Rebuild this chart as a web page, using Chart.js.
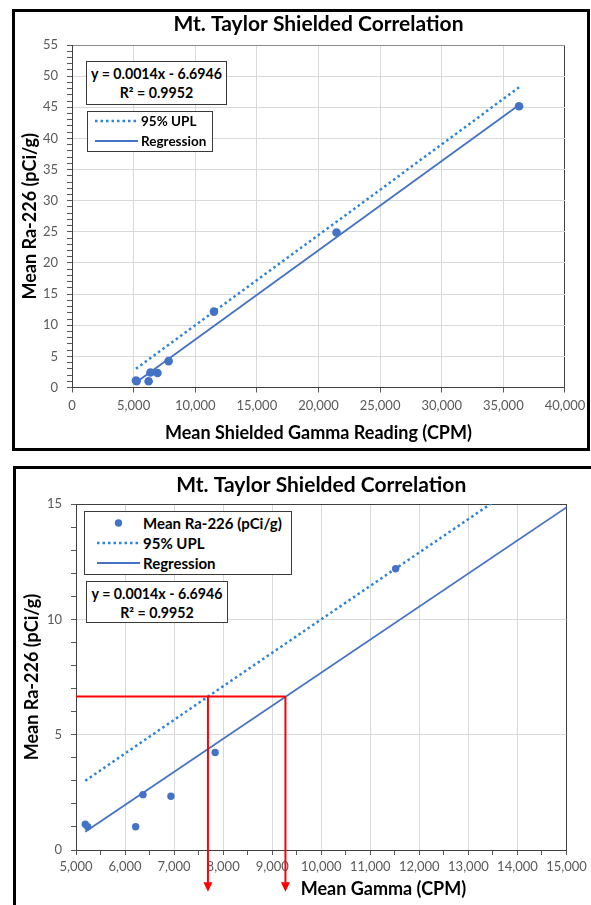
<!DOCTYPE html>
<html>
<head>
<meta charset="utf-8">
<title>Mt. Taylor Shielded Correlation</title>
<script src="https://cdn.jsdelivr.net/npm/chart.js@4.4.1/dist/chart.umd.min.js"></script>
<style>
  html, body { margin: 0; padding: 0; background: #fff; }
  body { position: relative; width: 591px; height: 905px; overflow: hidden; font-family: Lato, sans-serif; color: #000; }
  .frame { position: absolute; box-sizing: border-box; border: 3px solid #000; }
  #frameTop { left: 12px; top: 9px; width: 578px; height: 442px; }
  #frameBottom { left: 13px; top: 466px; width: 640px; height: 500px; }
  canvas { position: absolute; left: 0; }
  #topChart { top: 0; }
  #bottomChart { top: 460px; }
  .box { position: absolute; box-sizing: border-box; background: #fff; border: 1px solid #3a3a3a; }
  .eq { font-weight: bold; text-align: center; font-size: 14.2px; line-height: 19.4px; padding-top: 1.6px; }
  .row { position: absolute; left: 0; height: 20px; width: 100%; white-space: nowrap; font-weight: bold; }
  .row svg { position: absolute; top: 0; left: 0; }
  .row span { position: absolute; top: 0; line-height: 20px; }
</style>
</head>
<body>
<div class="frame" id="frameTop"></div>
<div class="frame" id="frameBottom"></div>
<canvas id="topChart" width="591" height="460"></canvas>
<canvas id="bottomChart" width="591" height="445"></canvas>
<div class="box eq" id="eqTop" style="left:86px;top:61px;width:141px;height:44px;"></div>
<div class="box" id="legendTop" style="left:87px;top:111px;width:126px;height:41px;"></div>
<div class="box" id="legendBottom" style="left:84px;top:511px;width:208px;height:64px;"></div>
<div class="box eq" id="eqBottom" style="left:86px;top:581px;width:142px;height:42px;"></div>
<script>
// values
var gammaCpm = [5189, 5238, 6216, 6365, 6935, 7837, 11517, 21466, 36275];
var meanRa226 = [1.12, 1.01, 1.01, 2.40, 2.33, 4.23, 12.19, 24.88, 45.16];

var uplCpm = [5189, 7690, 11517, 21466, 36275];
var uplRa226 = [3.0, 6.65, 12.2, 26.6, 48.2];

var regressionCpm = [5189, 36275];
var regressionRa226 = [0.79, 45.35];

var equationLines = ['y = 0.0014x - 6.6946', 'R\u00b2 = 0.9952'];

// red read-off lines on the zoomed chart
var limitRa226 = 6.65;
var limitCpm = [7690, 9270];   // UPL crossing, regression crossing
var arrowBaseRa226 = -1.42;    // arrows run down past the x axis

// axis ranges: [min, max, step, labelled every]
var topX = [0, 40000, 5000, 5000];
var topY = [0, 55, 1, 5];
var bottomX = [5000, 15000, 500, 1000];
var bottomY = [0, 15, 1, 5];

var blue = '#4472C4';
var dotBlue = '#2E84D4';
var red = '#FF0000';

Chart.defaults.font.family = 'Lato, sans-serif';

function pts(xs, ys) {
    return xs.map(function (x, i) { return {x: x, y: ys[i]}; });
}

function withCommas(v) {
    return String(v).replace(/\B(?=(\d{3})+(?!\d))/g, ',');
}

function seriesDatasets(radius) {
    return [{
        label: 'Mean Ra-226 (pCi/g)',
        data: pts(gammaCpm, meanRa226),
        showLine: false,
        pointRadius: radius,
        pointBorderWidth: 0,
        pointBackgroundColor: blue,
        order: 0
    }, {
        label: '95% UPL',
        data: pts(uplCpm, uplRa226),
        showLine: true,
        borderColor: dotBlue,
        borderWidth: 2.5,
        borderDash: [2.5, 3],
        pointRadius: 0,
        order: 2
    }, {
        label: 'Regression',
        data: pts(regressionCpm, regressionRa226),
        showLine: true,
        borderColor: blue,
        borderWidth: 1.8,
        pointRadius: 0,
        order: 1
    }];
}

function axis(range, opts) {
    var min = range[0], max = range[1], major = range[3];
    return {
        type: 'linear',
        min: min,
        max: max,
        ticks: {
            stepSize: range[2],
            autoSkip: false,
            maxRotation: 0,
            minRotation: 0,
            color: '#595959',
            padding: opts.labelPad,
            font: {size: 13},
            callback: function (v) { return v % major === 0 ? withCommas(v) : ''; }
        },
        grid: {
            color: function (c) {
                var v = c.tick ? c.tick.value : 0;
                if (v % major !== 0) return 'rgba(0,0,0,0)';
                if (v === max) return opts.edgeColor;
                return '#d9d9d9';
            },
            tickColor: '#595959',
            tickLength: 5,
            lineWidth: 1
        },
        border: {color: '#404040', width: 1},
        title: {
            display: !!opts.title,
            text: opts.title || '',
            color: '#000',
            font: {size: 18, weight: 'bold'},
            padding: opts.titlePad
        },
        afterFit: function (s) {
            if (opts.width) s.width = opts.width;
            if (opts.height) s.height = opts.height;
        }
    };
}

// arrowheads at the end of the red read-off lines
var arrowHeads = {
    id: 'arrowHeads',
    afterDatasetsDraw: function (chart) {
        var ctx = chart.ctx;
        chart.data.datasets.forEach(function (ds, i) {
            if (!ds.arrow) return;
            var els = chart.getDatasetMeta(i).data;
            var end = els[els.length - 1];
            ctx.save();
            ctx.fillStyle = ds.borderColor;
            ctx.beginPath();
            ctx.moveTo(end.x - 4.5, end.y - 0.5);
            ctx.lineTo(end.x + 4.5, end.y - 0.5);
            ctx.lineTo(end.x, end.y + 9);
            ctx.closePath();
            ctx.fill();
            ctx.restore();
        });
    }
};

// x title of the lower chart sits right of centre
var offsetAxisTitle = {
    id: 'offsetAxisTitle',
    afterDraw: function (chart, args, opts) {
        if (!opts.text) return;
        var area = chart.chartArea, ctx = chart.ctx;
        ctx.save();
        ctx.font = 'bold 18px Lato, sans-serif';
        ctx.fillStyle = '#000';
        ctx.textAlign = 'center';
        ctx.textBaseline = 'middle';
        ctx.fillText(opts.text, area.right - opts.fromRight, area.bottom + opts.below);
        ctx.restore();
    }
};

function titleOpts(padTop, padBottom) {
    return {
        display: true,
        text: 'Mt. Taylor Shielded Correlation',
        color: '#000',
        fullSize: false,
        font: {size: 21, weight: 'bold'},
        padding: {top: padTop, bottom: padBottom}
    };
}

var topDatasets = seriesDatasets(4.3);

window.topChart = new Chart(document.getElementById('topChart'), {
    type: 'scatter',
    data: {datasets: topDatasets},
    options: {
        responsive: false,
        animation: false,
        devicePixelRatio: 1,
        events: [],
        layout: {padding: {left: 14, right: 25.5, top: 0, bottom: 12.5}},
        plugins: {
            legend: {display: false},
            tooltip: {enabled: false},
            title: titleOpts(11.4, 8.4)
        },
        scales: {
            x: axis(topX, {labelPad: 5.7, edgeColor: '#404040', height: 60,
                title: 'Mean Shielded Gamma Reading (CPM)', titlePad: {top: 0, bottom: 3.7}}),
            y: axis(topY, {labelPad: 9, edgeColor: '#8c8c8c', width: 58,
                title: 'Mean Ra-226 (pCi/g)', titlePad: {top: 5.2, bottom: 0}})
        }
    }
});

var bottomDatasets = seriesDatasets(3.7).concat([{
    label: 'read-off',
    data: pts([bottomX[0], limitCpm[1]], [limitRa226, limitRa226]),
    showLine: true, borderColor: red, borderWidth: 2, pointRadius: 0, clip: false, order: -1
}, {
    label: 'UPL read-off',
    data: pts([limitCpm[0], limitCpm[0]], [limitRa226, arrowBaseRa226]),
    showLine: true, borderColor: red, borderWidth: 2, pointRadius: 0, clip: false, order: -1, arrow: true
}, {
    label: 'regression read-off',
    data: pts([limitCpm[1], limitCpm[1]], [limitRa226, arrowBaseRa226]),
    showLine: true, borderColor: red, borderWidth: 2, pointRadius: 0, clip: false, order: -1, arrow: true
}]);

window.bottomChart = new Chart(document.getElementById('bottomChart'), {
    type: 'scatter',
    data: {datasets: bottomDatasets},
    plugins: [arrowHeads, offsetAxisTitle],
    options: {
        responsive: false,
        animation: false,
        devicePixelRatio: 1,
        events: [],
        layout: {padding: {left: 16, right: 24, top: 0, bottom: 0}},
        plugins: {
            legend: {display: false},
            tooltip: {enabled: false},
            title: titleOpts(12.4, 6.4),
            offsetAxisTitle: {text: 'Mean Gamma (CPM)', fromRight: 183, below: 39}
        },
        scales: {
            x: axis(bottomX, {labelPad: 4.2, edgeColor: '#404040', height: 55}),
            y: axis(bottomY, {labelPad: 9, edgeColor: '#404040', width: 60,
                title: 'Mean Ra-226 (pCi/g)', titlePad: {top: 5.2, bottom: 0}})
        }
    }
});

// equation boxes and legends, built from the datasets
function fillEquation(id) {
    document.getElementById(id).innerHTML = equationLines.join('<br>');
}

function sample(ds, x0, x1) {
    var w = x1 + 2;
    var s = '<svg width="' + w + '" height="20">';
    if (!ds.showLine) {
        s += '<circle cx="' + ((x0 + x1) / 2) + '" cy="10" r="3.7" fill="' + ds.pointBackgroundColor + '"/>';
    } else {
        s += '<line x1="' + x0 + '" y1="10" x2="' + x1 + '" y2="10" stroke="' + ds.borderColor +
            '" stroke-width="' + (ds.borderDash ? 2.5 : 1.8) + '"' +
            (ds.borderDash ? ' stroke-dasharray="' + ds.borderDash.join(' ') + '"' : '') + '/>';
    }
    return s + '</svg>';
}

function fillLegend(id, items, o) {
    var el = document.getElementById(id);
    items.forEach(function (ds, i) {
        var row = document.createElement('div');
        row.className = 'row';
        row.style.top = (o.first + i * o.gap - 10) + 'px';
        row.style.fontSize = o.size + 'px';
        row.innerHTML = sample(ds, o.x0, o.x1) +
            '<span style="left:' + o.textX + 'px">' + ds.label + '</span>';
        el.appendChild(row);
    });
}

fillEquation('eqTop');
fillEquation('eqBottom');
fillLegend('legendTop', topDatasets.slice(1), {first: 8.7, gap: 20, x0: 7, x1: 50, textX: 53, size: 13.5});
fillLegend('legendBottom', bottomDatasets.slice(0, 3), {first: 10.7, gap: 20.3, x0: 12, x1: 55, textX: 58, size: 15});
</script>
</body>
</html>
